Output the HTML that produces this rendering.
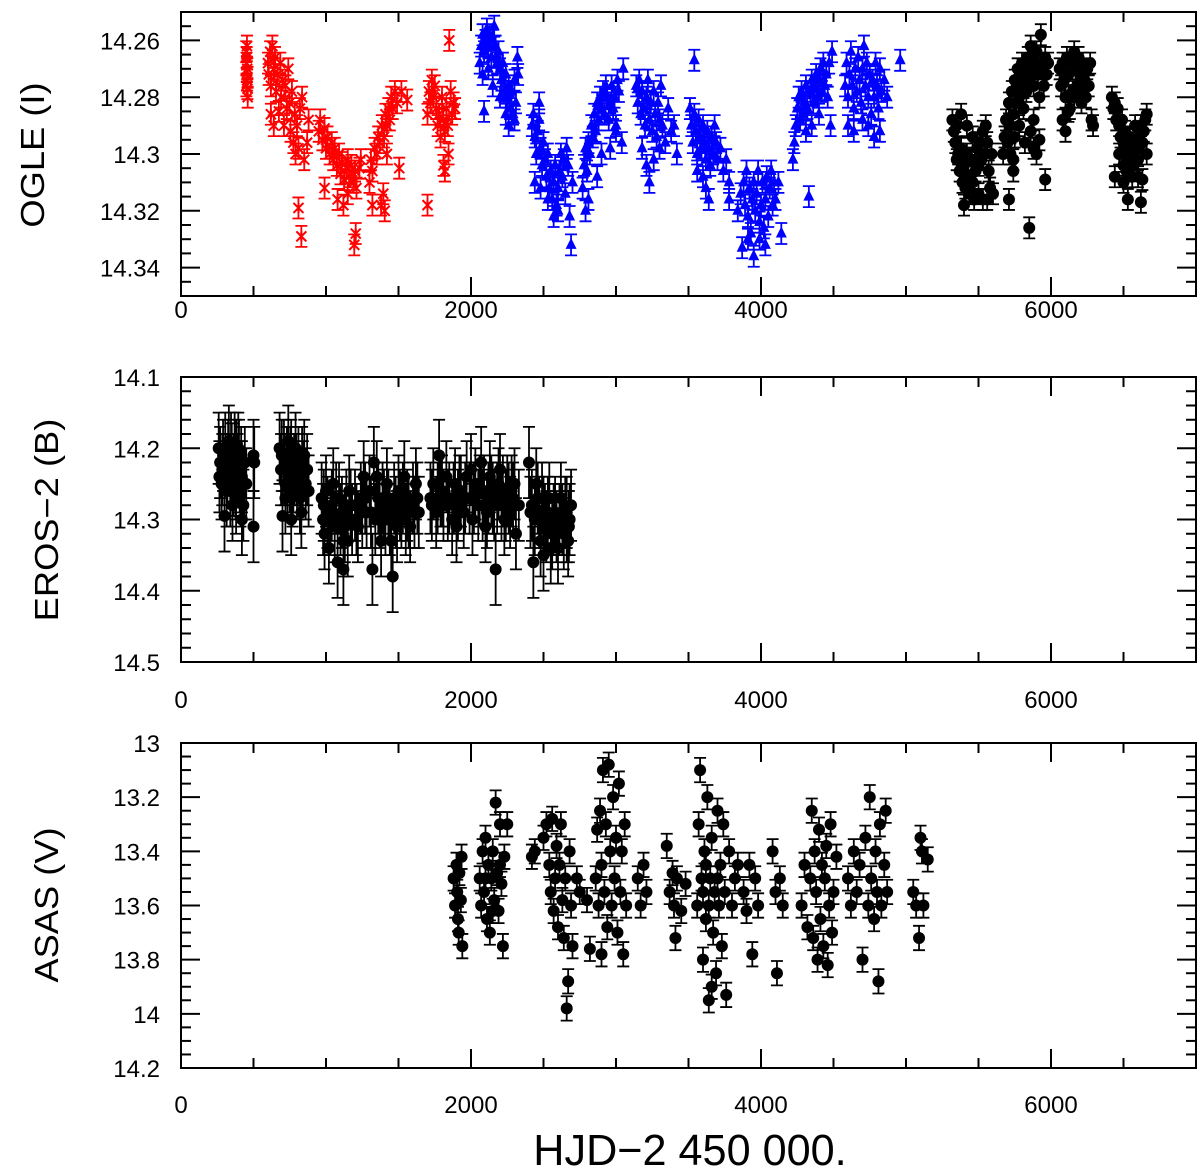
<!DOCTYPE html>
<html><head><meta charset="utf-8"><style>
html,body{margin:0;padding:0;background:#fff;}
svg{display:block;font-family:"Liberation Sans",sans-serif;}
</style></head><body>
<svg id="chart" width="1200" height="1172" viewBox="0 0 1200 1172" xmlns="http://www.w3.org/2000/svg">
<text x="690" y="1165" font-size="40" text-anchor="middle" font-family="Liberation Sans, sans-serif" transform="translate(690 1165) scale(1.08 1.1) translate(-690 -1165)">HJD−2 450 000.</text>
<text x="0" y="0" font-size="33" text-anchor="middle" transform="translate(44 155) rotate(-90) scale(1.1 1)">OGLE (I)</text>
<text x="0" y="0" font-size="33" text-anchor="middle" transform="translate(58 520) rotate(-90) scale(1.1 1)">EROS−2 (B)</text>
<text x="0" y="0" font-size="33" text-anchor="middle" transform="translate(58 905) rotate(-90) scale(1.1 1)">ASAS (V)</text>
</svg>
<script>
// ---------- DATA ----------
const xTicks = [0, 2000, 4000, 6000];
const ogleTicks = [14.26, 14.28, 14.3, 14.32, 14.34];
const erosTicks = [14.1, 14.2, 14.3, 14.4, 14.5];
const asasTicks = [13, 13.2, 13.4, 13.6, 13.8, 14, 14.2];
const ogleTickLabels = ["14.26","14.28","14.3","14.32","14.34"];
const erosTickLabels = ["14.1","14.2","14.3","14.4","14.5"];
const asasTickLabels = ["13","13.2","13.4","13.6","13.8","14","14.2"];

const ogleIIPoints = [[450,14.264],[452,14.268],[454,14.271],[456,14.274],[458,14.277],[460,14.28],[455,14.262],[453,14.266],[457,14.27],[459,14.273],[451,14.276],
[600,14.268],[605,14.272],[615,14.264],[620,14.276],[630,14.262],[640,14.27],[648,14.266],[655,14.278],[665,14.272],[675,14.285],[685,14.268],[690,14.28],[700,14.274],[710,14.29],[720,14.276],[730,14.284],[740,14.27],[748,14.282],[755,14.292],[765,14.278],[775,14.296],[785,14.286],[790,14.3],[800,14.29],[810,14.298],[820,14.284],[835,14.28],[850,14.302],[870,14.296],[880,14.288],[620,14.286],[640,14.29],[810,14.319],[830,14.329],
[950,14.292],[960,14.288],[975,14.295],[990,14.291],[1000,14.298],[1010,14.294],[1025,14.3],[1040,14.296],[1050,14.302],[1060,14.298],[1075,14.304],[1090,14.3],[1100,14.307],[1110,14.303],[1125,14.309],[1140,14.305],[1150,14.302],[1160,14.308],[1175,14.304],[1190,14.31],[1200,14.306],[1210,14.312],[1230,14.305],[1240,14.302],[990,14.312],[1080,14.316],[1120,14.318],[1150,14.314],[1195,14.332],[1205,14.328],
[1300,14.31],[1310,14.302],[1320,14.306],[1335,14.298],[1350,14.3],[1360,14.294],[1370,14.296],[1385,14.29],[1400,14.294],[1410,14.286],[1420,14.29],[1430,14.284],[1440,14.288],[1450,14.28],[1460,14.284],[1475,14.278],[1490,14.282],[1505,14.305],[1520,14.278],[1560,14.281],[1380,14.318],[1395,14.314],[1405,14.32],[1320,14.318],[1420,14.3],
[1700,14.286],[1710,14.278],[1720,14.282],[1730,14.274],[1740,14.28],[1750,14.276],[1760,14.284],[1770,14.29],[1780,14.286],[1790,14.294],[1800,14.28],[1810,14.288],[1820,14.292],[1830,14.284],[1840,14.29],[1850,14.26],[1860,14.278],[1870,14.286],[1880,14.282],[1890,14.284],[1700,14.318],[1810,14.304],[1820,14.306],[1845,14.3]];

const ogleIIIPoints = [[2060,14.268],[2070,14.262],[2080,14.258],[2090,14.264],[2100,14.26],[2110,14.256],[2120,14.262],[2130,14.258],[2140,14.266],[2150,14.26],[2160,14.255],[2170,14.262],[2180,14.268],[2190,14.264],[2200,14.27],[2210,14.274],[2220,14.268],[2230,14.278],[2240,14.272],[2250,14.28],[2260,14.276],[2270,14.284],[2280,14.278],[2290,14.286],[2300,14.274],[2310,14.282],[2320,14.266],[2325,14.272],[2080,14.272],[2120,14.27],[2150,14.276],[2200,14.28],[2240,14.286],[2090,14.285],[2260,14.29],[2300,14.288],
[2420,14.29],[2430,14.286],[2440,14.294],[2450,14.3],[2460,14.292],[2470,14.288],[2480,14.298],[2490,14.304],[2500,14.296],[2510,14.302],[2520,14.308],[2530,14.3],[2540,14.312],[2550,14.306],[2560,14.316],[2570,14.31],[2580,14.304],[2590,14.318],[2600,14.312],[2610,14.306],[2620,14.3],[2630,14.308],[2640,14.302],[2650,14.314],[2660,14.298],[2670,14.304],[2680,14.322],[2690,14.332],[2700,14.31],[2440,14.31],[2480,14.312],[2530,14.316],[2570,14.322],[2600,14.32],[2470,14.282],
[2770,14.312],[2780,14.304],[2790,14.298],[2800,14.306],[2810,14.296],[2820,14.3],[2830,14.29],[2840,14.294],[2850,14.286],[2860,14.292],[2870,14.282],[2880,14.288],[2890,14.28],[2900,14.284],[2910,14.278],[2920,14.286],[2930,14.276],[2940,14.28],[2950,14.288],[2960,14.282],[2970,14.276],[2980,14.284],[2990,14.28],[3000,14.29],[3010,14.274],[3020,14.278],[3040,14.296],[3050,14.27],[2790,14.32],[2810,14.316],[2870,14.308],[2900,14.3],[2960,14.298],[3000,14.292],
[3140,14.276],[3150,14.282],[3160,14.274],[3170,14.286],[3180,14.278],[3190,14.284],[3200,14.29],[3210,14.28],[3220,14.274],[3230,14.288],[3240,14.282],[3250,14.292],[3260,14.278],[3270,14.286],[3280,14.294],[3290,14.282],[3300,14.288],[3310,14.276],[3320,14.29],[3340,14.296],[3360,14.284],[3380,14.292],[3400,14.29],[3420,14.3],[3180,14.298],[3210,14.304],[3230,14.31],[3260,14.302],[3300,14.298],[3540,14.267],
[3510,14.284],[3520,14.29],[3530,14.296],[3540,14.286],[3550,14.292],[3560,14.3],[3570,14.288],[3580,14.294],[3590,14.298],[3600,14.29],[3610,14.296],[3620,14.302],[3630,14.292],[3640,14.298],[3650,14.304],[3660,14.294],[3670,14.3],[3680,14.29],[3690,14.296],[3700,14.302],[3720,14.298],[3740,14.306],[3760,14.302],[3780,14.31],[3560,14.306],[3600,14.308],[3620,14.312],[3640,14.316],[3780,14.316],
[3840,14.32],[3860,14.314],[3880,14.31],[3890,14.318],[3900,14.306],[3910,14.322],[3920,14.312],[3930,14.328],[3940,14.316],[3950,14.31],[3960,14.32],[3970,14.314],[3980,14.306],[3990,14.324],[4000,14.318],[4010,14.31],[4020,14.326],[4030,14.316],[4040,14.308],[4050,14.322],[4060,14.312],[4070,14.306],[4080,14.318],[4090,14.31],[4100,14.316],[4120,14.31],[4140,14.328],[3870,14.333],[3950,14.336],[3990,14.33],[4030,14.332],[3910,14.33],
[4220,14.302],[4230,14.296],[4240,14.29],[4250,14.284],[4260,14.28],[4270,14.288],[4280,14.278],[4290,14.286],[4300,14.282],[4310,14.276],[4320,14.284],[4330,14.315],[4340,14.278],[4350,14.274],[4360,14.282],[4370,14.276],[4380,14.272],[4390,14.28],[4400,14.274],[4410,14.27],[4420,14.278],[4430,14.268],[4440,14.276],[4450,14.272],[4460,14.28],[4470,14.268],[4490,14.264],[4310,14.292],[4350,14.29],[4400,14.286],[4480,14.29],
[4580,14.276],[4590,14.268],[4600,14.28],[4610,14.272],[4620,14.264],[4630,14.276],[4640,14.284],[4650,14.27],[4660,14.278],[4670,14.266],[4680,14.274],[4690,14.282],[4700,14.27],[4710,14.262],[4720,14.276],[4730,14.268],[4740,14.28],[4750,14.272],[4760,14.286],[4770,14.274],[4780,14.28],[4790,14.268],[4800,14.276],[4810,14.284],[4820,14.27],[4830,14.278],[4850,14.274],[4870,14.28],[4600,14.29],[4640,14.292],[4700,14.288],[4740,14.29],[4780,14.294],[4820,14.292],[4960,14.267]];

const ogleIVPoints = [[5320,14.288],[5330,14.292],[5340,14.296],[5350,14.29],[5360,14.3],[5370,14.306],[5380,14.298],[5390,14.31],[5400,14.304],[5410,14.312],[5420,14.3],[5430,14.308],[5440,14.314],[5450,14.302],[5460,14.31],[5470,14.316],[5480,14.306],[5490,14.298],[5500,14.304],[5510,14.296],[5520,14.302],[5530,14.292],[5540,14.3],[5550,14.29],[5560,14.296],[5570,14.306],[5580,14.312],[5590,14.3],[5600,14.314],[5350,14.302],[5380,14.286],[5420,14.29],[5460,14.294],[5500,14.314],[5530,14.316],[5560,14.316],[5400,14.318],
[5670,14.3],[5680,14.294],[5690,14.288],[5700,14.296],[5710,14.282],[5720,14.29],[5730,14.278],[5740,14.286],[5750,14.274],[5760,14.282],[5770,14.27],[5780,14.28],[5790,14.276],[5800,14.268],[5810,14.284],[5820,14.272],[5830,14.278],[5840,14.266],[5850,14.274],[5860,14.262],[5870,14.27],[5880,14.276],[5890,14.268],[5900,14.264],[5910,14.272],[5920,14.28],[5930,14.258],[5940,14.27],[5950,14.276],[5960,14.266],[5970,14.272],[5980,14.268],[5720,14.3],[5750,14.294],[5780,14.29],[5820,14.296],[5860,14.292],[5880,14.288],[5900,14.3],[5920,14.295],[5740,14.306],[5710,14.316],[5850,14.326],[5960,14.309],[5740,14.302],[5880,14.298],
[6060,14.27],[6070,14.276],[6080,14.268],[6090,14.274],[6100,14.28],[6110,14.266],[6120,14.272],[6130,14.284],[6140,14.268],[6150,14.278],[6160,14.264],[6170,14.27],[6180,14.276],[6190,14.266],[6200,14.272],[6210,14.278],[6220,14.268],[6230,14.274],[6240,14.28],[6250,14.27],[6260,14.276],[6270,14.268],[6280,14.288],[6290,14.29],[6080,14.288],[6100,14.292],[6120,14.285],[6160,14.28],[6210,14.282],
[6420,14.28],[6430,14.284],[6440,14.282],[6450,14.288],[6460,14.284],[6470,14.29],[6480,14.294],[6490,14.288],[6500,14.296],[6510,14.292],[6520,14.298],[6530,14.302],[6540,14.294],[6550,14.3],[6560,14.296],[6570,14.304],[6580,14.29],[6590,14.298],[6600,14.302],[6610,14.294],[6620,14.29],[6630,14.296],[6640,14.292],[6650,14.288],[6660,14.286],[6440,14.308],[6500,14.304],[6520,14.306],[6560,14.308],[6600,14.308],[6630,14.309],[6500,14.31],[6530,14.316],[6620,14.317],[6470,14.3],[6660,14.3]];

const erosPoints = [[260,14.2],[270,14.22],[280,14.25],[290,14.21],[300,14.295],[320,14.23],[330,14.19],[340,14.26],[350,14.215],[360,14.245],[370,14.2],[380,14.27],[390,14.23],[400,14.21],[410,14.26],[420,14.24],[430,14.28],[440,14.22],[450,14.25],[340,14.23],[380,14.21],[420,14.3],[500,14.21],[505,14.22],[500,14.31],
[265,14.24],[285,14.23],[305,14.2],[315,14.26],[325,14.21],[345,14.2],[355,14.28],[365,14.23],[375,14.25],[395,14.2],[405,14.24],[415,14.22],[435,14.25],
[680,14.2],[690,14.23],[700,14.295],[710,14.21],[720,14.25],[730,14.22],[740,14.19],[750,14.24],[760,14.21],[770,14.26],[780,14.23],[790,14.2],[800,14.25],[810,14.22],[820,14.27],[830,14.29],[840,14.24],[850,14.21],[860,14.25],[870,14.23],[880,14.26],[720,14.27],[760,14.3],
[695,14.21],[715,14.23],[735,14.25],[755,14.22],[775,14.24],[795,14.23],[815,14.25],[835,14.22],
[970,14.27],[980,14.3],[990,14.32],[1000,14.26],[1010,14.29],[1020,14.34],[1040,14.28],[1060,14.31],[1080,14.36],[1090,14.27],[1100,14.3],[1120,14.33],[1140,14.28],[1160,14.26],[1180,14.3],[1200,14.28],[1220,14.31],[1240,14.27],[1260,14.24],[1280,14.29],[1300,14.26],[1320,14.37],[1330,14.22],[1340,14.3],[1360,14.27],[1380,14.33],[1400,14.28],[1420,14.25],[1440,14.3],[1460,14.38],[1470,14.27],[1490,14.31],[1500,14.26],[1520,14.29],[1540,14.24],[1560,14.28],[1580,14.31],[1600,14.27],[1620,14.25],[1640,14.29],[1050,14.25],[1150,14.33],[1350,14.24],[1450,14.33],[1550,14.3],[1120,14.37],
[985,14.28],[1030,14.3],[1070,14.27],[1110,14.29],[1130,14.31],[1170,14.28],[1210,14.3],[1250,14.29],[1270,14.27],[1310,14.29],[1370,14.29],[1390,14.27],[1410,14.3],[1430,14.28],[1480,14.29],[1510,14.28],[1530,14.27],[1570,14.29],[1610,14.29],[1630,14.27],
[1720,14.27],[1740,14.25],[1760,14.29],[1780,14.21],[1790,14.26],[1810,14.28],[1830,14.24],[1850,14.27],[1870,14.3],[1890,14.25],[1910,14.28],[1930,14.26],[1950,14.29],[1970,14.24],[1990,14.27],[2010,14.3],[2030,14.25],[2050,14.28],[2070,14.22],[2090,14.26],[2110,14.29],[2130,14.24],[2150,14.27],[2170,14.37],[2190,14.25],[2210,14.28],[2230,14.3],[2250,14.26],[2270,14.29],[2290,14.27],[2310,14.32],[2330,14.28],[1900,14.31],[2000,14.23],[2100,14.31],[2200,14.23],[2300,14.25],
[1730,14.28],[1770,14.27],[1800,14.26],[1840,14.28],[1880,14.27],[1920,14.26],[1960,14.27],[2020,14.27],[2060,14.26],[2080,14.28],[2120,14.27],[2140,14.26],[2160,14.28],[2180,14.27],[2220,14.26],[2240,14.28],[2260,14.27],[2280,14.26],
[2400,14.22],[2420,14.28],[2430,14.36],[2440,14.3],[2460,14.27],[2480,14.33],[2500,14.29],[2520,14.31],[2540,14.27],[2560,14.32],[2580,14.29],[2600,14.34],[2610,14.3],[2620,14.27],[2640,14.32],[2650,14.29],[2660,14.31],[2670,14.33],[2680,14.3],[2500,14.35],[2550,14.34],[2450,14.25],[2690,14.28],
[2410,14.29],[2470,14.29],[2490,14.27],[2510,14.3],[2530,14.29],[2570,14.3],[2590,14.31],[2630,14.3],[2660,14.29],[2675,14.31]];

const asasPoints = [[1880,13.5],[1890,13.6],[1900,13.45],[1905,13.55],[1910,13.65],[1920,13.48],[1930,13.58],[1940,13.75],[1915,13.7],[1935,13.42],
[2060,13.5],[2070,13.6],[2080,13.4],[2090,13.55],[2100,13.35],[2110,13.65],[2120,13.45],[2130,13.7],[2140,13.5],[2150,13.4],[2160,13.58],[2170,13.22],[2180,13.48],[2190,13.62],[2200,13.3],[2210,13.52],[2220,13.75],[2230,13.42],[2250,13.3],[2100,13.5],[2150,13.62],[2200,13.45],
[2420,13.42],[2440,13.4],
[2500,13.35],[2520,13.3],[2540,13.45],[2550,13.55],[2560,13.28],[2570,13.62],[2580,13.5],[2590,13.38],[2600,13.68],[2610,13.45],[2620,13.3],[2630,13.58],[2640,13.72],[2650,13.5],[2660,13.98],[2670,13.88],[2680,13.4],[2690,13.6],[2700,13.75],[2730,13.5],[2750,13.55],
[2860,13.5],[2870,13.32],[2880,13.6],[2890,13.25],[2900,13.45],[2910,13.1],[2920,13.55],[2930,13.3],[2940,13.68],[2950,13.08],[2960,13.4],[2970,13.6],[2980,13.2],[2990,13.5],[3000,13.35],[3010,13.7],[3020,13.15],[3030,13.55],[3040,13.4],[3050,13.78],[3060,13.3],[3070,13.6],[2900,13.78],[2800,13.58],[2820,13.76],
[3150,13.5],[3170,13.6],[3190,13.45],[3210,13.55],
[3350,13.38],[3370,13.55],[3390,13.48],[3400,13.6],[3410,13.72],[3420,13.5],[3450,13.62],[3480,13.52],
[3560,13.6],[3570,13.3],[3580,13.1],[3590,13.5],[3600,13.8],[3610,13.4],[3620,13.65],[3630,13.2],[3640,13.95],[3650,13.5],[3660,13.35],[3670,13.7],[3680,13.55],[3690,13.85],[3700,13.25],[3710,13.6],[3720,13.45],[3730,13.75],[3740,13.3],[3750,13.55],[3760,13.93],[3780,13.4],[3800,13.6],[3820,13.5],[3840,13.45],[3600,13.55],[3640,13.6],[3660,13.9],[3700,13.5],[3620,13.45],
[3880,13.55],[3900,13.62],[3920,13.45],[3940,13.78],[3960,13.5],[3980,13.6],
[4080,13.4],[4100,13.55],[4110,13.85],[4130,13.5],[4150,13.6],
[4280,13.6],[4300,13.45],[4320,13.68],[4340,13.5],[4350,13.25],[4360,13.72],[4370,13.4],[4380,13.55],[4390,13.8],[4400,13.32],[4410,13.65],[4420,13.45],[4430,13.75],[4440,13.5],[4450,13.38],[4460,13.82],[4470,13.6],[4480,13.3],[4490,13.7],[4500,13.55],[4520,13.42],
[4600,13.5],[4620,13.6],[4640,13.4],[4660,13.55],[4680,13.45],[4700,13.8],[4720,13.35],[4740,13.6],[4750,13.2],[4760,13.5],[4780,13.65],[4790,13.4],[4800,13.55],[4810,13.88],[4820,13.3],[4830,13.6],[4850,13.45],[4860,13.25],[4870,13.55],
[5050,13.55],[5070,13.6],[5090,13.72],[5100,13.35],[5110,13.4],[5120,13.6],[5150,13.43]];

// ---------- RENDER ----------
const NS = "http://www.w3.org/2000/svg";
const svg = document.getElementById("chart");
function mk(tag, attrs, parent) {
  const e = document.createElementNS(NS, tag);
  for (const k in attrs) e.setAttribute(k, attrs[k]);
  (parent || svg).appendChild(e);
  return e;
}
const X0 = 181, X1 = 1196, TMAX = 7000;
function xs(t) { return X0 + t / TMAX * (X1 - X0); }

const panels = [
  {name:"ogle", top:12, bot:296, ymin:14.25, ymax:14.35, ticks:ogleTicks, labels:ogleTickLabels, minor:0.005, xlab:318},
  {name:"eros", top:377, bot:662, ymin:14.1, ymax:14.5, ticks:erosTicks, labels:erosTickLabels, minor:0.02, xlab:708},
  {name:"asas", top:743, bot:1068, ymin:13, ymax:14.2, ticks:asasTicks, labels:asasTickLabels, minor:0.05, xlab:1113}
];
panels.forEach(p => { p.ys = m => p.top + (m - p.ymin) / (p.ymax - p.ymin) * (p.bot - p.top); });

panels.forEach(p => {
  const g = mk("g", {});
  
  
  const frame = mk("rect", {x:X0, y:p.top, width:X1-X0, height:p.bot-p.top, fill:"none", stroke:"#000", "stroke-width":2}, g);
  
  
  for (let t = 500; t < TMAX; t += 500) {
    const major = t % 2000 === 0;
    const L = major ? 19 : 10;
    const x = xs(t);
    const a = mk("line", {x1:x, x2:x, y1:p.bot, y2:p.bot-L, stroke:"#000", "stroke-width":2}, g);
    
    
    const b = mk("line", {x1:x, x2:x, y1:p.top, y2:p.top+L, stroke:"#000", "stroke-width":2}, g);
    
    
  }
  xTicks.forEach(t => {
    const tx = mk("text", {x:xs(t), y:p.xlab, "font-size":24, "text-anchor":"middle"}, g);
    tx.textContent = String(t);
    
    
  });
  const n = Math.round((p.ymax - p.ymin) / p.minor);
  for (let i = 1; i < n; i++) {
    const m = p.ymin + i * p.minor;
    const y = p.ys(m);
    const major = p.ticks.some(v => Math.abs(v - m) < p.minor / 10);
    const L = major ? 19 : 10;
    const a = mk("line", {x1:X0, x2:X0+L, y1:y, y2:y, stroke:"#000", "stroke-width":2}, g);
    
    
    const b = mk("line", {x1:X1, x2:X1-L, y1:y, y2:y, stroke:"#000", "stroke-width":2}, g);
    
    
  }
  p.ticks.forEach((v, i) => {
    const tx = mk("text", {x:160, y:p.ys(v) + 9, "font-size":24, "text-anchor":"end"}, g);
    tx.textContent = p.labels[i];
    
    
  });
});

function errbar(g, x, y1, y2, color, cap) {
  mk("path", {d:`M${x} ${y1}V${y2}M${x-cap} ${y1}H${x+cap}M${x-cap} ${y2}H${x+cap}`, stroke:color, "stroke-width":1.8, fill:"none"}, g);
}
function drawSeries(points, panel, color, shape, err, name) {
  const g = mk("g", {});
  
  
  points.forEach(pt => {
    const x = xs(pt[0]);
    errbar(g, x, panel.ys(pt[1] - err), panel.ys(pt[1] + err), color, 6);
  });
  points.forEach(pt => {
    const x = xs(pt[0]), y = panel.ys(pt[1]);
    let e;
    if (shape === "circle") e = mk("circle", {cx:x, cy:y, r:6, fill:color}, g);
    else if (shape === "tri") e = mk("path", {d:`M${x} ${y-7}L${x+5.5} ${y+4}L${x-5.5} ${y+4}Z`, fill:color}, g);
    else e = mk("path", {d:`M${x-5} ${y-5}L${x+5} ${y+5}M${x-5} ${y+5}L${x+5} ${y-5}M${x} ${y-5}V${y+5}`, stroke:color, "stroke-width":2, fill:"none"}, g);
    
    
  });
}
drawSeries(ogleIIPoints, panels[0], "#ff0000", "cross", 0.0037, "ogle-ii-series");
drawSeries(ogleIIIPoints, panels[0], "#0000ff", "tri", 0.0037, "ogle-iii-series");
drawSeries(ogleIVPoints, panels[0], "#000000", "circle", 0.0037, "ogle-iv-series");
drawSeries(erosPoints, panels[1], "#000000", "circle", 0.05, "eros-series");
drawSeries(asasPoints, panels[2], "#000000", "circle", 0.045, "asas-series");
</script>
</body></html>
